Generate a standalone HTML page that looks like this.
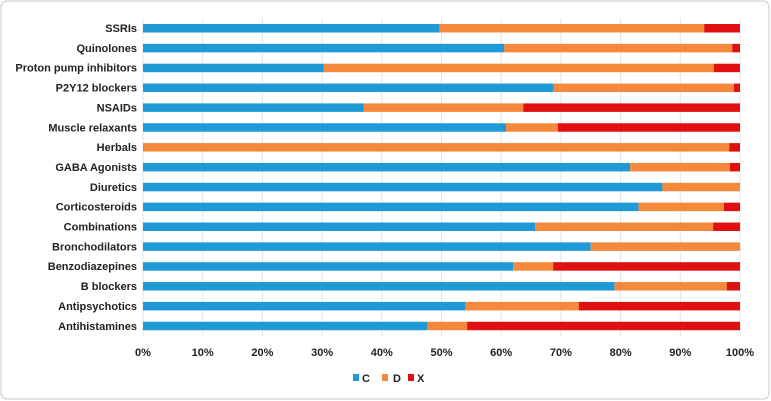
<!DOCTYPE html>
<html><head><meta charset="utf-8"><style>
body{margin:0;background:#fff;}
svg{display:block;font-family:"Liberation Sans",sans-serif;font-weight:bold;}
</style></head><body>
<svg width="771" height="401">
<rect x="1" y="1" width="768" height="398" rx="6" fill="#fff" stroke="#c8c8c8"/>
<g id="grid"></g><g id="bars"></g><g id="labels"></g><g id="ticks"></g>
<g>
<rect x="353" y="374" width="6" height="7" fill="#1f9ad6"/>
<text x="362" y="382" font-size="11" fill="#222">C</text>
<rect x="382" y="374" width="6" height="7" fill="#f5883a"/>
<text x="393" y="382" font-size="11" fill="#222">D</text>
<rect x="408" y="374" width="6" height="7" fill="#e01010"/>
<text x="417" y="382" font-size="11" fill="#222">X</text>
</g>
</svg>
<script>
const categories=["SSRIs","Quinolones","Proton pump inhibitors","P2Y12 blockers","NSAIDs","Muscle relaxants","Herbals","GABA Agonists","Diuretics","Corticosteroids","Combinations","Bronchodilators","Benzodiazepines","B blockers","Antipsychotics","Antihistamines"];
const seriesC=[49.7,60.5,30.3,68.8,37,60.8,0,81.6,87,83,65.7,75,62,79,54,47.7];
const seriesD=[44.3,38.2,65.3,30.2,26.7,8.7,98.2,16.7,13,14.3,29.8,25,6.7,18.8,19,6.6];
const seriesX=[6,1.3,4.4,1,36.3,30.5,1.8,1.7,0,2.7,4.5,0,31.3,2.2,27,45.7];
const tickValues=[0,10,20,30,40,50,60,70,80,90,100];
const colors=["#1f9ad6","#f5883a","#e01010"];
const names=["c","d","x"];
const NS="http://www.w3.org/2000/svg";
const x0=143,x1=740;
const xs=v=>x0+(x1-x0)*v/100;
const ys=i=>28+i*19.85;
function mk(t,a,p){const e=document.createElementNS(NS,t);for(const k in a)e.setAttribute(k,a[k]);document.getElementById(p).appendChild(e);return e;}
tickValues.forEach(t=>{
 const g=mk("line",{x1:xs(t),x2:xs(t),y1:18,y2:336,stroke:"#e4e4e4","stroke-width":1},"grid");
 
 
 const l=mk("text",{x:xs(t),y:356,"font-size":11,"text-anchor":"middle",fill:"#222"},"ticks");
 l.textContent=t+"%";
 
 
});
categories.forEach((c,i)=>{
 const vals=[seriesC[i],seriesD[i],seriesX[i]];let acc=0;
 vals.forEach((v,j)=>{
  const r=mk("rect",{x:xs(acc),y:ys(i)-4,width:Math.max(0,xs(acc+v)-xs(acc)),height:8.5,fill:colors[j]},"bars");
  
  
  acc+=v;
 });
 const l=mk("text",{x:137,y:ys(i)+4,"font-size":11,"text-anchor":"end",fill:"#222"},"labels");
 l.textContent=c;
 
 
});
</script>
</body></html>
